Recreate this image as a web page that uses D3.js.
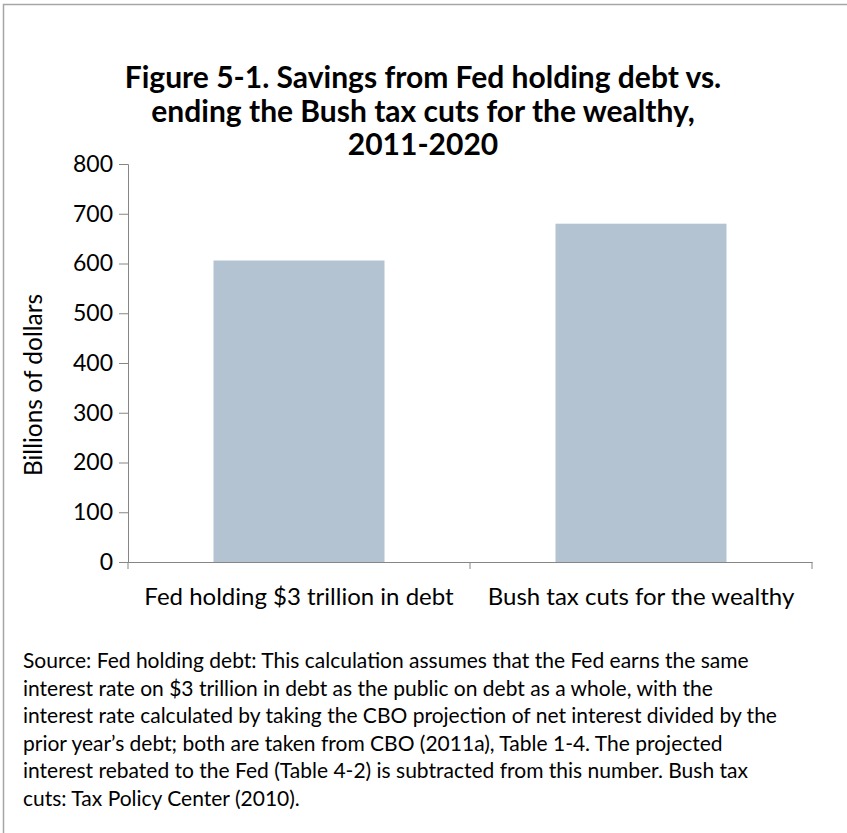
<!DOCTYPE html>
<html>
<head>
<meta charset="utf-8">
<script src="https://cdn.jsdelivr.net/npm/d3@7"></script>
<style>
  html, body { margin: 0; padding: 0; background: #fff; }
  svg { display: block; }
  text { font-family: Lato, "Open Sans", sans-serif; fill: #000; }
</style>
</head>
<body>
<svg id="chart" width="847" height="833"></svg>
<script>
// Savings estimates, billions of dollars, 2011-2020
const categories = ["Fed holding $3 trillion in debt", "Bush tax cuts for the wealthy"];
const savings = [606, 680];
const yTicks = [0, 100, 200, 300, 400, 500, 600, 700, 800];

const titleLines = [
  "Figure 5-1. Savings from Fed holding debt vs.",
  "ending the Bush tax cuts for the wealthy,",
  "2011-2020"
];
const yTitle = "Billions of dollars";
const sourceLines = [
  "Source: Fed holding debt: This calculation assumes that the Fed earns the same",
  "interest rate on $3 trillion in debt as the public on debt as a whole, with the",
  "interest rate calculated by taking the CBO projection of net interest divided by the",
  "prior year\u2019s debt; both are taken from CBO (2011a), Table 1-4. The projected",
  "interest rebated to the Fed (Table 4-2) is subtracted from this number. Bush tax",
  "cuts: Tax Policy Center (2010)."
];

const svg = d3.select("#chart");
const axisColor = "#868686";
const barColor = "#b4c3d1";
const labelSize = 24;

// outer frame (right and bottom edges run past the page)
svg.append("rect")
  .attr("x", 3.5).attr("y", 4.5)
  .attr("width", 900).attr("height", 900)
  .attr("fill", "none").attr("stroke", "#a6a6a6").attr("stroke-width", 1.5);

const plot = { left: 128, right: 812, top: 164, bottom: 562 };

const x = d3.scaleBand()
  .domain(categories)
  .range([plot.left, plot.right])
  .paddingInner(0.5)
  .paddingOuter(0.25);

const y = d3.scaleLinear()
  .domain([0, 800])
  .range([plot.bottom, plot.top]);

// title
svg.append("g")
  .selectAll("text")
  .data(titleLines)
  .join("text")
  .attr("x", 423)
  .attr("y", (d, i) => 88 + i * 33.5)
  .attr("text-anchor", "middle")
  .attr("font-size", 30)
  .attr("font-weight", "bold")
  .text(d => d);

// bars
svg.append("g")
  .selectAll("rect")
  .data(categories)
  .join("rect")
  .attr("x", d => x(d))
  .attr("width", x.bandwidth())
  .attr("y", (d, i) => y(savings[i]))
  .attr("height", (d, i) => y(0) - y(savings[i]))
  .attr("fill", barColor);

// y axis
const yAxis = svg.append("g")
  .attr("transform", `translate(${plot.left},0)`)
  .call(d3.axisLeft(y).tickValues(yTicks).tickSize(9).tickPadding(6).tickFormat(d3.format("d")));
yAxis.select(".domain").attr("stroke", axisColor);
yAxis.selectAll(".tick line").attr("stroke", axisColor);
yAxis.selectAll(".tick text")
  .attr("font-family", "Lato, 'Open Sans', sans-serif")
  .attr("font-size", 23)
  .attr("fill", "#000");

// x axis: labels under bars, ticks at category boundaries
const xAxis = svg.append("g")
  .attr("transform", `translate(0,${plot.bottom})`)
  .call(d3.axisBottom(x).tickSize(0).tickPadding(0));
xAxis.select(".domain").attr("stroke", axisColor);
xAxis.selectAll(".tick text")
  .attr("dy", null)
  .attr("y", 43)
  .attr("font-family", "Lato, 'Open Sans', sans-serif")
  .attr("font-size", labelSize)
  .attr("fill", "#000");

const boundaries = d3.range(categories.length + 1)
  .map(i => plot.left + i * (plot.right - plot.left) / categories.length);
xAxis.selectAll(".boundary")
  .data(boundaries)
  .join("line")
  .attr("class", "boundary")
  .attr("x1", d => d).attr("x2", d => d)
  .attr("y1", 0).attr("y2", 7)
  .attr("stroke", axisColor);

// y axis title
svg.append("text")
  .attr("transform", "translate(42,385) rotate(-90)")
  .attr("text-anchor", "middle")
  .attr("font-size", 24.5)
  .text(yTitle);

// source note
svg.append("g")
  .selectAll("text")
  .data(sourceLines)
  .join("text")
  .attr("x", 23)
  .attr("y", (d, i) => 668 + i * 27.6)
  .attr("font-size", 21)
  .text(d => d);
</script>
</body>
</html>
